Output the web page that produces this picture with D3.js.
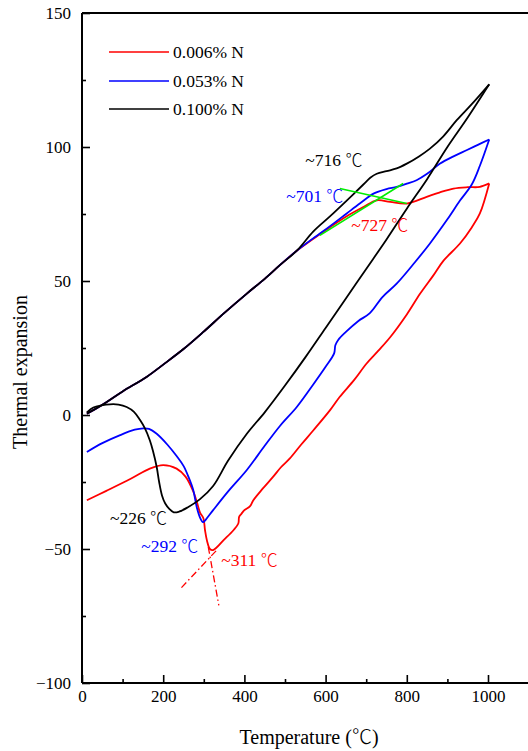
<!DOCTYPE html>
<html><head><meta charset="utf-8">
<script src="https://cdn.jsdelivr.net/npm/d3@7"></script>
<style>
html,body{margin:0;padding:0;background:#fff;}
svg{display:block;font-family:"Liberation Serif","Times New Roman",serif;}
</style></head>
<body>
<svg id="chart" width="528" height="751"></svg>
<script>
// ---- data (temperature °C, thermal expansion) ----
const xTicks = [0, 200, 400, 600, 800, 1000];
const xMinorTicks = [100, 300, 500, 700, 900, 1100];
const yTicks = [-100, -50, 0, 50, 100, 150];
const yMinorTicks = [-75, -25, 25, 75, 125];
const seriesNames = ["0.006% N", "0.053% N", "0.100% N"];
const seriesColors = ["#ff0000", "#0000ff", "#000000"];

const commonHeating = [[12,0.5],[30,2],[60,4.8],[100,8.8],[159,14.2],[200,18.8],[250,24.6],[299,31],[350,38],[406,45.3],[450,50.8],[488,56],[529,61.3]];

const redHeating = [[570,65.8],[610,70],[650,74],[693,77.6],[726,80.1],[759,79.5],[800,78.9],[849,81.4],[880,83],[915,84.5],[950,85],[980,85.1],[1003,86.4]];
const redCooling = [[1003,86.4],[980,75.2],[960,70],[931,64],[890,57.5],[865,52],[833,45.3],[800,37.5],[759,29],[730,24],[701,19.2],[670,13],[635,6.8],[611,1.8],[570,-5.7],[540,-11],[512,-16.2],[490,-19.5],[471,-23],[445,-27.5],[422,-31.8],[414,-34],[400,-35.5],[393,-36.8],[387,-38],[385,-40.5],[373,-43],[350,-46.5],[323,-50.4],[315,-50],[308,-47],[303,-43],[299,-38.5],[291,-36.5],[283,-32.5],[274,-28.5],[255,-23],[233,-20],[200,-18.7],[167,-20],[120,-23.8],[60,-28.3],[12,-31.8]];

const blueHeating = [[570,66],[586,67.7],[620,71.5],[652,75.2],[685,79],[718,82.6],[750,84.3],[775,85.1],[800,86.3],[824,87.6],[850,90],[882,93.8],[915,96.5],[947,98.8],[975,100.8],[1003,102.8]];
const blueCooling = [[1003,102.8],[980,93],[960,86],[931,80],[900,73],[857,64],[820,57],[775,49],[740,44],[709,38],[680,35],[650,31],[631,28],[624,26],[621,23],[600,18],[570,11.5],[529,3],[488,-4],[450,-11.5],[406,-20.5],[360,-28.5],[323,-35.5],[305,-39],[298,-40],[290,-38],[282,-34],[274,-28],[262,-23],[250,-19],[234,-15.5],[210,-11],[184,-7],[165,-5.2],[151,-5],[130,-5.5],[94,-7.5],[50,-10.5],[12,-13.8]];

const blackHeating = [[570,68.5],[610,74],[652,80],[693,86],[710,88.5],[726,90],[750,91],[775,92],[800,93.8],[830,96.5],[857,99.4],[890,104],[923,110],[960,116],[1003,123.4]];
const blackCooling = [[1003,123.4],[950,111],[900,100],[850,88],[800,77],[750,65.5],[700,54.5],[650,43.5],[600,32.5],[550,21.5],[500,11],[450,1],[406,-7],[360,-17],[323,-26.5],[290,-31.5],[260,-34.5],[240,-36],[226,-36.3],[215,-35],[205,-33],[197,-30],[190,-25],[184,-19.4],[175,-13.5],[167,-9.4],[155,-5],[143,-1.9],[128,1.2],[110,3],[90,3.9],[69,4],[48,3.6],[28,2.8],[12,1]];

const greenTangent1 = [[586,67],[791,86.4]];
const greenTangent2 = [[635,84.5],[800,78.9]];
const redTangent1 = [[245,-64.4],[332,-50.4]];
const redTangent2 = [[311,-49.2],[337,-71]];

const annotations = [
  {label:"~716", T:550, v:93, color:"#000000"},
  {label:"~701", T:503, v:79.5, color:"#0000ff"},
  {label:"~727", T:663, v:68.5, color:"#ff0000"},
  {label:"~226", T:69, v:-40.5, color:"#000000"},
  {label:"~292", T:146, v:-51.3, color:"#0000ff"},
  {label:"~311", T:343, v:-56.5, color:"#ff0000"}
];

// ---- layout ----
const svg = d3.select("#chart");
const x = d3.scaleLinear().domain([0, 1100]).range([82, 528.6]);
const y = d3.scaleLinear().domain([-100, 150]).range([683, 13]);
const line = d3.line().x(d => x(d[0])).y(d => y(d[1])).curve(d3.curveCatmullRom.alpha(0.5));
const straight = d3.line().x(d => x(d[0])).y(d => y(d[1]));
const CJK = "'Noto Sans CJK SC'";

// axes
const fs = 17;
const gx = svg.append("g").attr("transform", `translate(0,${y(-100)})`)
  .call(d3.axisBottom(x).tickValues(xTicks).tickSize(-8).tickPadding(7).tickFormat(d3.format("d")));
const gxm = svg.append("g").attr("transform", `translate(0,${y(-100)})`)
  .call(d3.axisBottom(x).tickValues(xMinorTicks).tickSize(-4).tickFormat(""));
const gy = svg.append("g").attr("transform", `translate(${x(0)},0)`)
  .call(d3.axisLeft(y).tickValues(yTicks).tickSize(-8).tickPadding(11).tickFormat(d3.format("d")));
const gym = svg.append("g").attr("transform", `translate(${x(0)},0)`)
  .call(d3.axisLeft(y).tickValues(yMinorTicks).tickSize(-4).tickFormat(""));
[gx, gxm, gy, gym].forEach(g => {
  g.select(".domain").remove();
  g.selectAll(".tick line").attr("stroke", "#000").attr("stroke-width", 1.6);
  g.selectAll("text").attr("font-family", "Liberation Serif").attr("font-size", fs).attr("fill", "#000");
});
// axis frame lines
svg.append("line").attr("x1", x(0)).attr("x2", 528).attr("y1", y(-100)).attr("y2", y(-100)).attr("stroke", "#000").attr("stroke-width", 2);
svg.append("line").attr("x1", x(0)).attr("x2", 528).attr("y1", y(150)).attr("y2", y(150)).attr("stroke", "#000").attr("stroke-width", 2);
svg.append("line").attr("x1", x(0)).attr("x2", x(0)).attr("y1", y(150)).attr("y2", y(-100)).attr("stroke", "#000").attr("stroke-width", 2);

// axis titles
const xt = svg.append("text").attr("x", 309).attr("y", 744).attr("text-anchor", "middle")
  .attr("font-size", 20).attr("fill", "#000");
xt.append("tspan").text("Temperature (");
xt.append("tspan").attr("font-family", CJK).attr("font-weight", 300).attr("font-size", 20).text("℃");
xt.append("tspan").text(")");
svg.append("text").attr("transform", `translate(27,${372}) rotate(-90)`).attr("text-anchor", "middle")
  .attr("font-size", 20).attr("fill", "#000").text("Thermal expansion");

// curves
const curves = [
  {d: commonHeating.concat(redHeating), c: seriesColors[0]},
  {d: redCooling, c: seriesColors[0]},
  {d: commonHeating.concat(blueHeating), c: seriesColors[1]},
  {d: blueCooling, c: seriesColors[1]},
  {d: commonHeating.concat(blackHeating), c: seriesColors[2]},
  {d: blackCooling, c: seriesColors[2]}
];
curves.forEach(cv => {
  svg.append("path").datum(cv.d).attr("d", line).attr("fill", "none")
    .attr("stroke", cv.c).attr("stroke-width", 1.8).attr("stroke-linejoin", "round");
});
// tangent lines
[greenTangent1, greenTangent2].forEach(t => {
  svg.append("path").datum(t).attr("d", straight).attr("stroke", "#00ee00").attr("stroke-width", 1.6).attr("fill", "none");
});
[redTangent1, redTangent2].forEach(t => {
  svg.append("path").datum(t).attr("d", straight).attr("stroke", "#ff0000").attr("stroke-width", 1.3)
    .attr("stroke-dasharray", "7,3,1.5,3").attr("fill", "none");
});

// annotations
annotations.forEach(a => {
  const t = svg.append("text").attr("x", x(a.T)).attr("y", y(a.v)).attr("font-size", 17.5)
    .attr("fill", a.color);
  t.append("tspan").text(a.label + " ");
  t.append("tspan").attr("font-family", CJK).attr("font-weight", 300).attr("font-size", 17).text("℃");
});

// legend
const legY = [52, 81, 109];
seriesNames.forEach((n, i) => {
  svg.append("line").attr("x1", 109).attr("x2", 169).attr("y1", legY[i]).attr("y2", legY[i])
    .attr("stroke", seriesColors[i]).attr("stroke-width", 1.6);
  svg.append("text").attr("x", 173).attr("y", legY[i] + 6).attr("font-size", 17.5).attr("fill", "#000").text(n);
});
</script>
</body></html>
